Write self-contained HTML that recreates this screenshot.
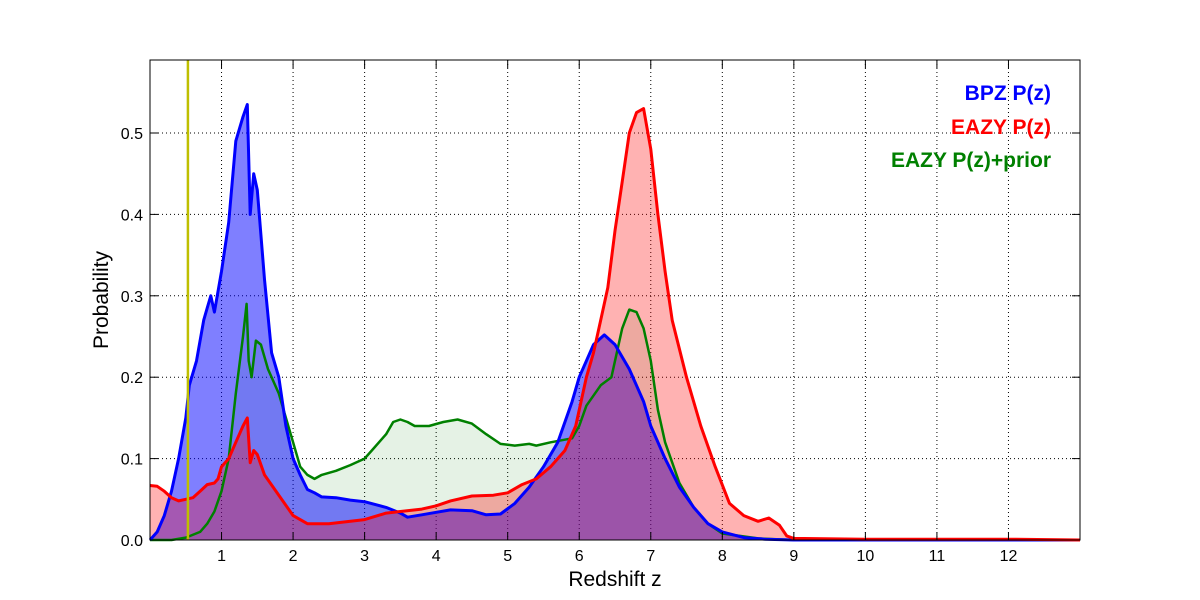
<!DOCTYPE html>
<html><head><meta charset="utf-8"><style>
body{margin:0;background:#fff}
svg{display:block;font-family:"Liberation Sans","DejaVu Sans",sans-serif}
</style></head><body>
<svg id="chart" width="1200" height="600" xmlns="http://www.w3.org/2000/svg">
<rect width="1200" height="600" fill="#fff"/>
<g id="grid"></g>
<g id="fills"></g>
<g id="lines"></g>
<rect x="150" y="60" width="930" height="480" fill="none" stroke="#000" stroke-width="1"/>
<g id="ticks"></g>
<text x="615" y="586" font-size="21" text-anchor="middle">Redshift z</text>
<text transform="translate(108,300) rotate(-90)" font-size="21" text-anchor="middle">Probability</text>
<text x="1051" y="100" font-size="21" font-weight="bold" fill="#0000ff" text-anchor="end">BPZ P(z)</text>
<text x="1051" y="134" font-size="21" font-weight="bold" fill="#ff0000" text-anchor="end">EAZY P(z)</text>
<text x="1051" y="167" font-size="21" font-weight="bold" fill="#008000" text-anchor="end">EAZY P(z)+prior</text>
</svg>
<script>
const bpzZ=[0,0.1,0.2,0.3,0.4,0.5,0.55,0.65,0.75,0.8,0.85,0.9,1.0,1.1,1.2,1.3,1.36,1.4,1.45,1.5,1.6,1.7,1.8,1.9,2.0,2.1,2.2,2.3,2.4,2.6,2.8,3.0,3.3,3.5,3.6,3.8,4.0,4.2,4.5,4.7,4.9,5.1,5.3,5.5,5.7,5.9,6.0,6.1,6.2,6.35,6.5,6.7,6.9,7.0,7.2,7.4,7.6,7.8,8.0,8.3,8.6,9,13];
const bpzP=[0,0.01,0.03,0.06,0.1,0.15,0.19,0.22,0.27,0.285,0.3,0.28,0.33,0.39,0.49,0.52,0.535,0.4,0.45,0.43,0.32,0.23,0.2,0.14,0.1,0.08,0.062,0.058,0.053,0.052,0.049,0.047,0.04,0.033,0.028,0.031,0.034,0.037,0.036,0.031,0.032,0.045,0.065,0.09,0.12,0.17,0.2,0.22,0.24,0.252,0.24,0.21,0.17,0.14,0.1,0.065,0.04,0.02,0.01,0.003,0.001,0,0];
const eazyZ=[0,0.1,0.2,0.3,0.4,0.5,0.6,0.7,0.8,0.9,0.95,1.0,1.1,1.2,1.3,1.36,1.4,1.45,1.5,1.6,1.8,2.0,2.2,2.5,3.0,3.3,3.5,3.8,4.0,4.2,4.5,4.8,5.0,5.2,5.4,5.6,5.8,5.95,6.1,6.2,6.3,6.4,6.5,6.6,6.7,6.8,6.9,7.0,7.1,7.2,7.3,7.5,7.7,7.9,8.1,8.3,8.5,8.65,8.8,8.9,9.0,10,12,13];
const eazyP=[0.067,0.066,0.06,0.052,0.048,0.05,0.052,0.06,0.068,0.07,0.075,0.09,0.1,0.12,0.14,0.15,0.095,0.11,0.105,0.08,0.055,0.03,0.02,0.02,0.025,0.033,0.035,0.038,0.042,0.048,0.054,0.055,0.058,0.068,0.075,0.09,0.11,0.14,0.2,0.23,0.27,0.31,0.38,0.44,0.5,0.525,0.53,0.48,0.4,0.33,0.27,0.2,0.14,0.09,0.045,0.03,0.023,0.027,0.018,0.005,0.002,0.001,0.001,0];
const priorZ=[0,0.3,0.5,0.7,0.8,0.9,1.0,1.1,1.2,1.3,1.35,1.38,1.42,1.48,1.55,1.65,1.8,1.9,2.0,2.1,2.2,2.3,2.4,2.6,2.8,3.0,3.1,3.3,3.4,3.5,3.6,3.7,3.9,4.1,4.3,4.5,4.7,4.9,5.1,5.3,5.4,5.6,5.9,6.0,6.1,6.3,6.45,6.55,6.6,6.7,6.8,6.9,7.0,7.1,7.2,7.4,7.6,7.8,8.0,8.5,9,13];
const priorP=[0,0,0.003,0.01,0.02,0.035,0.06,0.1,0.18,0.25,0.29,0.22,0.2,0.245,0.24,0.21,0.18,0.15,0.12,0.09,0.08,0.075,0.08,0.085,0.092,0.1,0.11,0.13,0.145,0.148,0.145,0.14,0.14,0.145,0.148,0.143,0.13,0.118,0.116,0.118,0.116,0.12,0.125,0.14,0.165,0.19,0.2,0.24,0.26,0.283,0.28,0.26,0.22,0.16,0.12,0.07,0.04,0.02,0.008,0.002,0,0];
const xTicks=[1,2,3,4,5,6,7,8,9,10,11,12];
const yTicks=[0,0.1,0.2,0.3,0.4,0.5];
const priorLineZ=0.53;
const NS="http://www.w3.org/2000/svg";
const X=z=>150+z*(930/13);
const Y=p=>540-p*814;
function mk(t,a,parent){const e=document.createElementNS(NS,t);for(const k in a)e.setAttribute(k,a[k]);parent.appendChild(e);return e;}
const grid=document.getElementById('grid'),ticks=document.getElementById('ticks'),fills=document.getElementById('fills'),lines=document.getElementById('lines');
xTicks.forEach(v=>{
 const g=mk('line',{x1:X(v),x2:X(v),y1:60,y2:540,stroke:'#000','stroke-dasharray':'1,3','stroke-width':1},grid);
 
 
 const t=mk('text',{x:X(v),y:561,'font-size':16,'text-anchor':'middle'},ticks);t.textContent=v;
 
 
 mk('line',{x1:X(v),x2:X(v),y1:540,y2:532,stroke:'#000'},ticks);
 mk('line',{x1:X(v),x2:X(v),y1:60,y2:68,stroke:'#000'},ticks);
});
yTicks.forEach(v=>{
 if(v>0){const g=mk('line',{x1:150,x2:1080,y1:Y(v),y2:Y(v),stroke:'#000','stroke-dasharray':'1,3','stroke-width':1},grid);
 
 }
 const t=mk('text',{x:143,y:Y(v)+6,'font-size':16,'text-anchor':'end'},ticks);t.textContent=v.toFixed(1);
 
 
 mk('line',{x1:150,x2:158,y1:Y(v),y2:Y(v),stroke:'#000'},ticks);
 mk('line',{x1:1080,x2:1072,y1:Y(v),y2:Y(v),stroke:'#000'},ticks);
});
function pts(zs,ps){return zs.map((z,i)=>X(z).toFixed(1)+','+Y(ps[i]).toFixed(1)).join(' ');}
function series(zs,ps,fill,stroke,w,name){
 const f=mk('polygon',{points:X(zs[0])+','+Y(0)+' '+pts(zs,ps)+' '+X(zs[zs.length-1])+','+Y(0),fill:fill},fills);
 
 
 const l=mk('polyline',{points:pts(zs,ps),fill:'none',stroke:stroke,'stroke-width':w,'stroke-linejoin':'round'},lines);
 
 
}
series(priorZ,priorP,'rgba(0,128,0,0.1)','#008000',2.5,'eazy-prior');
series(bpzZ,bpzP,'rgba(0,0,255,0.5)','#0000ff',3,'bpz');
series(eazyZ,eazyP,'rgba(255,0,0,0.3)','#ff0000',3,'eazy');
const v=mk('line',{x1:X(priorLineZ),x2:X(priorLineZ),y1:60,y2:540,stroke:'#bfbf00','stroke-width':2.5},lines);


</script>
</body></html>
